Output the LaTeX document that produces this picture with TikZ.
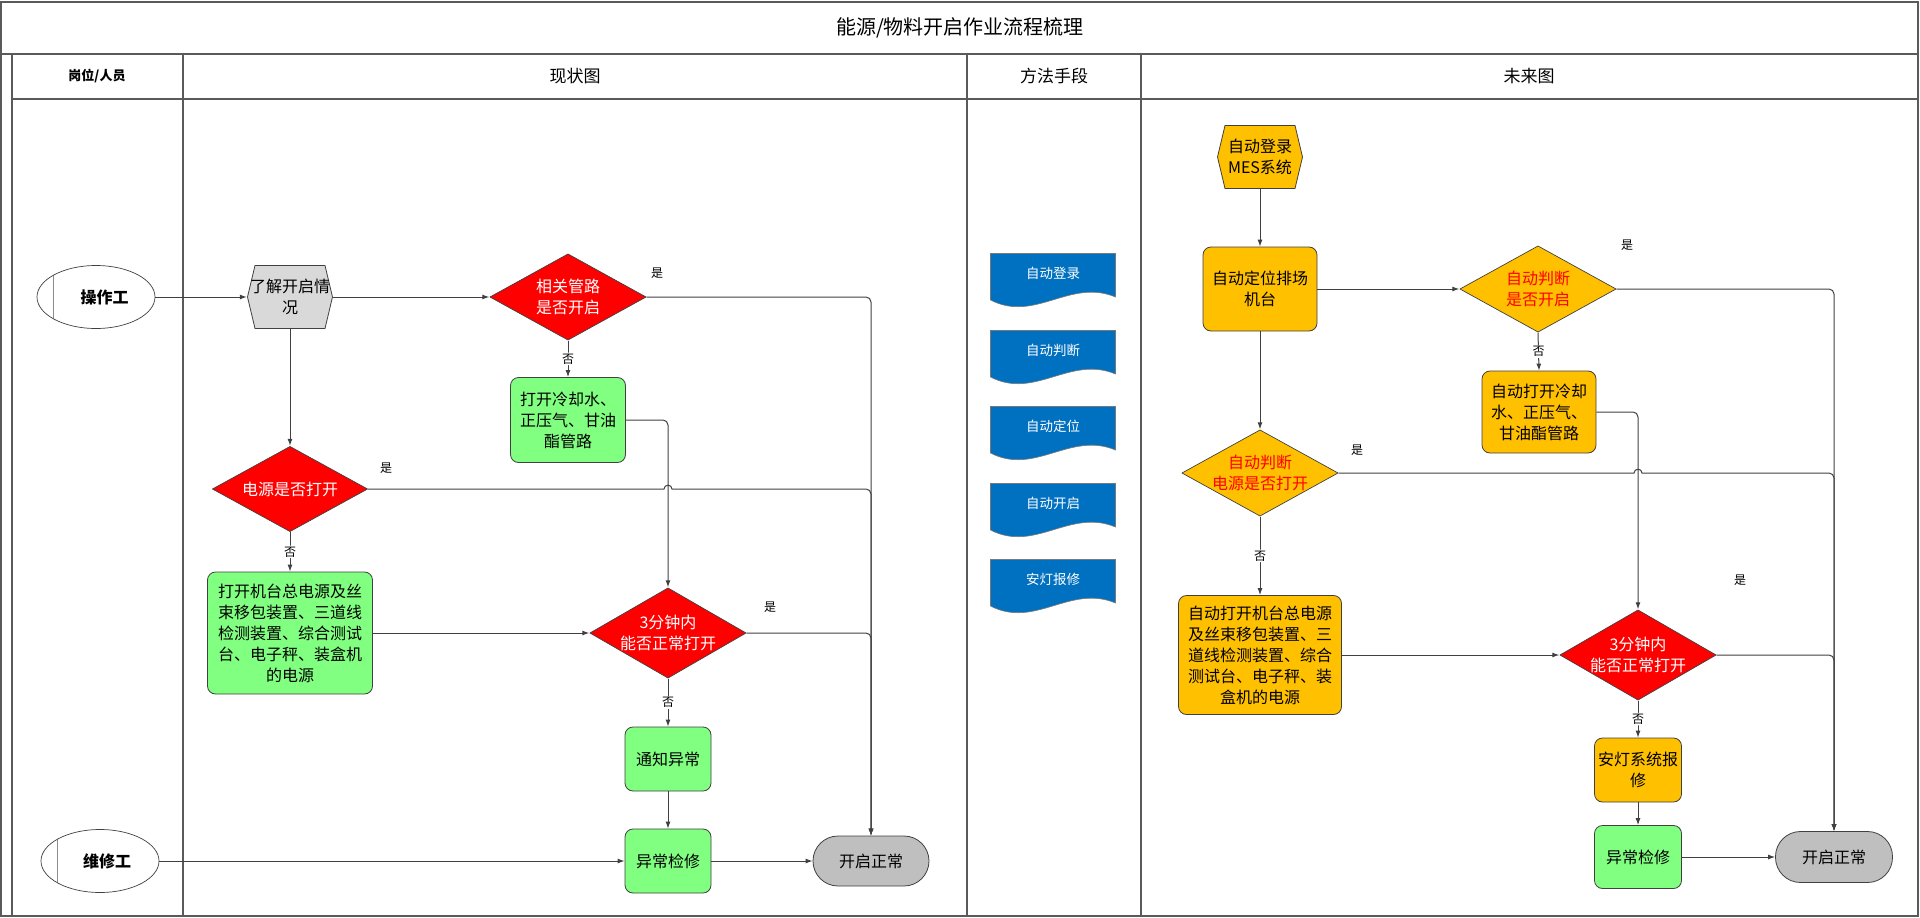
\documentclass[tikz,border=0pt]{standalone}
\usepackage{fontspec}
\setmainfont{Noto Sans CJK SC}
\usetikzlibrary{arrows.meta,shapes.geometric,calc}
\definecolor{cred}{HTML}{FF0000}
\definecolor{cgreen}{HTML}{80FF80}
\definecolor{corange}{HTML}{FFC000}
\definecolor{chex}{HTML}{D9D9D9}
\definecolor{cend}{HTML}{BFBFBF}
\definecolor{cblue}{HTML}{0070C0}
\definecolor{cline}{HTML}{404040}
\definecolor{cframe}{HTML}{5A5A5A}
\begin{document}
\begin{tikzpicture}[x=1pt,y=-1pt,
  every node/.style={inner sep=0pt, align=center, font=\fontsize{16}{21}\selectfont},
  frame/.style={draw=cframe, line width=1.4pt},
  conn/.style={draw=cline, line width=1pt, -{Latex[length=7pt,width=5pt]}, rounded corners=5pt},
  lbl/.style={font=\fontsize{12}{12}\selectfont, fill=white, inner sep=1pt},
  yes/.style={font=\fontsize{12}{12}\selectfont},
  hdr/.style={font=\fontsize{17}{17}\selectfont},
  box/.style={draw=cline, line width=0.8pt, rounded corners=8pt, fill=#1},
  endbox/.style={draw=cline, line width=0.8pt, rounded corners=25pt, fill=cend, minimum width=116pt, minimum height=50pt},
  dia/.style={minimum width=157pt, minimum height=87pt, path picture={
    \path[fill=#1, draw=cline, line width=0.7pt]
      ($(path picture bounding box.north)+(0,0.5)$) -- ($(path picture bounding box.east)+(-0.5,0)$) --
      ($(path picture bounding box.south)+(0,-0.5)$) -- ($(path picture bounding box.west)+(0.5,0)$) -- cycle;}},
  hexa/.style={minimum width=86pt, minimum height=64pt, path picture={
    \path[fill=#1, draw=cline, line width=0.8pt]
      ($(path picture bounding box.north west)+(8,0.5)$) -- ($(path picture bounding box.north east)+(-8,0.5)$) --
      ($(path picture bounding box.east)+(-0.5,0)$) -- ($(path picture bounding box.south east)+(-8,-0.5)$) --
      ($(path picture bounding box.south west)+(8,-0.5)$) -- ($(path picture bounding box.west)+(0.5,0)$) -- cycle;}},
  doc/.style={minimum width=126pt, minimum height=54pt, text height=10pt, text depth=13pt, text=white,
    font=\fontsize{13.5}{14}\selectfont, path picture={
      \path[fill=cblue, draw=cline!70, line width=0.6pt]
        ($(path picture bounding box.north west)+(0.5,0.5)$) --
        ($(path picture bounding box.north west)+(125.5,0.5)$) --
        ($(path picture bounding box.north west)+(125.5,44)$)
        .. controls ($(path picture bounding box.north west)+(80,25)$) and ($(path picture bounding box.north west)+(45,70)$) ..
        ($(path picture bounding box.north west)+(0.5,47)$) -- cycle;}},
  actor/.style={ellipse, draw=cline, line width=0.7pt, fill=white, minimum width=118pt, minimum height=63pt,
    font=\bfseries\fontsize{16}{16}\selectfont, path picture={
    \draw[cline!60, line width=1pt] ($(path picture bounding box.west)+(16,-40)$) -- ($(path picture bounding box.west)+(16,40)$);}}
]
\useasboundingbox (0,0) rectangle (1920,918);
% frame
\draw[frame] (1,2) rectangle (1918,916);
\draw[frame] (1,54) -- (1918,54);
\draw[frame] (12,99) -- (1918,99);
\draw[frame] (12,54) -- (12,916);
\foreach \xx in {183,967,1141} \draw[frame] (\xx,54) -- (\xx,916);
\node[font=\fontsize{20}{20}\selectfont] (title) at (960,28) {能源/物料开启作业流程梳理};
\node[font=\bfseries\fontsize{13}{13}\selectfont] (h0) at (97,76) {岗位/人员};
\node[hdr] (h1) at (575,76) {现状图};
\node[hdr] (h2) at (1054,76) {方法手段};
\node[hdr] (h3) at (1529,76) {未来图};

% ---------- current state ----------
\node[actor] (op) at (96,297) {\hspace*{17pt}操作工};
\node[actor] (mt) at (100,861) {\hspace*{14pt}维修工};
\node[hexa=chex] (hx1) at (290,297) {了解开启情\\况};
\node[dia=cred, text=white] (d1) at (568,297) {相关管路\\是否开启};
\node[box=cgreen, minimum width=115pt, minimum height=85pt] (b1) at (568,420) {打开冷却水、\\正压气、甘油\\酯管路};
\node[dia=cred, text=white, minimum width=156pt, minimum height=86pt] (d2) at (290,489) {电源是否打开};
\node[box=cgreen, minimum width=165pt, minimum height=122pt] (b2) at (290,633) {打开机台总电源及丝\\束移包装置、三道线\\检测装置、综合测试\\台、电子秤、装盒机\\的电源};
\node[dia=cred, text=white, minimum height=91pt] (d3) at (668,633) {3分钟内\\能否正常打开};
\node[box=cgreen, minimum width=86pt, minimum height=64pt] (b3) at (668,759) {通知异常};
\node[box=cgreen, minimum width=86pt, minimum height=64pt] (b4) at (668,861) {异常检修};
\node[endbox] (e1) at (871,861) {开启正常};

\draw[conn] (op.east) -- (hx1.west);
\draw[conn] (hx1.east) -- (d1.west);
\draw[conn] (d1.south) -- node[lbl] {否} (b1.north);
\draw[conn] (d1.east) -| (e1.north);
\draw[conn] (b1.east) -| (d3.north);
\draw[conn] (hx1.south) -- (d2.north);
\draw[conn, sharp corners] (d2.east) -- ($(d3.north |- d2.east)+(-4,0)$) .. controls +(0,-5) and +(0,-5) .. ($(d3.north |- d2.east)+(4,0)$) [rounded corners=5pt] -| (e1.north);
\draw[conn] (d2.south) -- node[lbl] {否} (b2.north);
\draw[conn] (b2.east) -- (d3.west);
\draw[conn] (d3.east) -| (e1.north);
\draw[conn] (d3.south) -- node[lbl] {否} (b3.north);
\draw[conn] (b3.south) -- (b4.north);
\draw[conn] (mt.east) -- (b4.west);
\draw[conn] (b4.east) -- (e1.west);
\node[yes] (y1) at (657,273) {是};
\node[yes] (y2) at (386,468) {是};
\node[yes] (y3) at (770,607) {是};

% ---------- methods ----------
\node[doc] (m1) at (1053,280) {自动登录};
\node[doc] (m2) at (1053,357) {自动判断};
\node[doc] (m3) at (1053,433) {自动定位};
\node[doc] (m4) at (1053,510) {自动开启};
\node[doc] (m5) at (1053,586) {安灯报修};

% ---------- future state ----------
\node[hexa=corange] (hx2) at (1260,157) {自动登录\\MES系统};
\node[box=corange, minimum width=114pt, minimum height=84pt] (r1) at (1260,289) {自动定位排场\\机台};
\node[dia=corange, text=cred] (rd1) at (1538,289) {自动判断\\是否开启};
\node[box=corange, minimum width=114pt, minimum height=82pt] (rb1) at (1539,412) {自动打开冷却\\水、正压气、\\甘油酯管路};
\node[dia=corange, text=cred] (rd2) at (1260,473) {自动判断\\电源是否打开};
\node[box=corange, minimum width=163pt, minimum height=119pt] (rb2) at (1260,655) {自动打开机台总电源\\及丝束移包装置、三\\道线检测装置、综合\\测试台、电子秤、装\\盒机的电源};
\node[dia=cred, text=white, minimum height=91pt] (rd3) at (1638,655) {3分钟内\\能否正常打开};
\node[box=corange, minimum width=87pt, minimum height=64pt] (rb3) at (1638,770) {安灯系统报\\修};
\node[box=cgreen, minimum width=87pt, minimum height=63pt] (rb4) at (1638,857) {异常检修};
\node[endbox, minimum width=117pt, minimum height=51pt] (re) at (1834,857) {开启正常};

\draw[conn] (hx2.south) -- (r1.north);
\draw[conn] (r1.east) -- (rd1.west);
\draw[conn] (rd1.south) -- node[lbl] {否} (rb1.north);
\draw[conn] (rd1.east) -| (re.north);
\draw[conn] (rb1.east) -| (rd3.north);
\draw[conn] (r1.south) -- (rd2.north);
\draw[conn, sharp corners] (rd2.east) -- ($(rd3.north |- rd2.east)+(-4,0)$) .. controls +(0,-5) and +(0,-5) .. ($(rd3.north |- rd2.east)+(4,0)$) [rounded corners=5pt] -| (re.north);
\draw[conn] (rd2.south) -- node[lbl] {否} (rb2.north);
\draw[conn] (rb2.east) -- (rd3.west);
\draw[conn] (rd3.east) -| (re.north);
\draw[conn] (rd3.south) -- node[lbl] {否} (rb3.north);
\draw[conn] (rb3.south) -- (rb4.north);
\draw[conn] (rb4.east) -- (re.west);
\node[yes] (y4) at (1627,245) {是};
\node[yes] (y5) at (1357,450) {是};
\node[yes] (y6) at (1740,580) {是};
\end{tikzpicture}
\end{document}
